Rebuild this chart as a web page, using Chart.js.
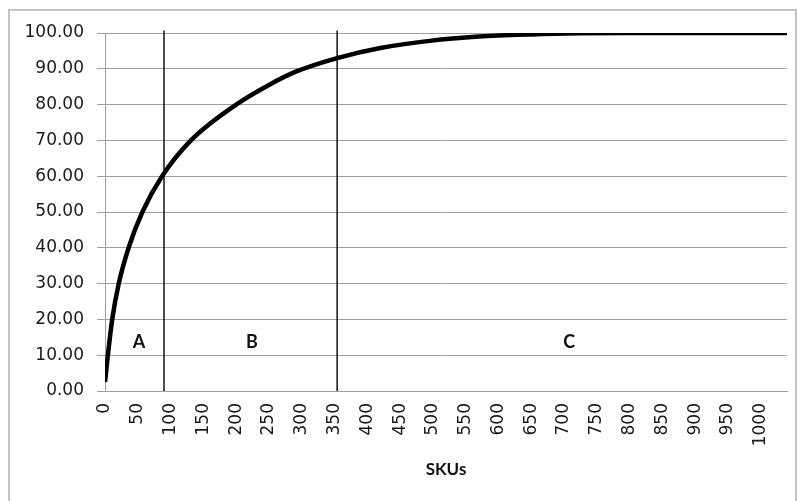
<!DOCTYPE html>
<html lang="en">
<head>
<meta charset="UTF-8">
<title>SKU ABC curve</title>
<script src="https://cdn.jsdelivr.net/npm/chart.js"></script>
<style>
  html, body { margin: 0; padding: 0; background: #fff; overflow: hidden; }
  .frame { position: absolute; left: 8px; top: 9px; width: 789px; height: 520px; border: 2px solid #c4c4c4; box-sizing: border-box; }
  .chart-box { position: absolute; left: 0; top: 0; width: 798px; height: 501px; }
</style>
</head>
<body>
<div class="frame"></div>
<div class="chart-box"><canvas id="abcChart"></canvas></div>
<script>
// cumulative share (%) against number of SKUs
const skus = [0, 5, 11, 21, 36, 57, 87, 131, 200, 250, 291, 354, 420, 495, 570, 650, 725, 800, 1040];
const cumulative = [2.5, 11, 20, 30, 40, 50, 60, 70, 80, 85.5, 89.2, 93.0, 95.8, 97.8, 99.0, 99.6, 99.9, 100, 100];

// A/B/C class boundaries and zone names
const zoneBounds = [90, 354];
const zoneNames = ['A', 'B', 'C'];
const zoneNameX = [52, 224, 708];
const zoneNameY = [13.5, 13.5, 13.5];

const xMax = 1040;
const xStep = 50;
const yMax = 100;
const yStep = 10;

const zoneLabelPlugin = {
    id: 'zoneLabels',
    afterDatasetsDraw(chart) {
        const { ctx, scales: { x, y } } = chart;
        ctx.save();
        ctx.font = 'bold 18px Lato';
        ctx.fillStyle = '#111';
        ctx.textAlign = 'center';
        ctx.textBaseline = 'middle';
        zoneNames.forEach((name, i) => {
            ctx.fillText(name, x.getPixelForValue(zoneNameX[i]), y.getPixelForValue(zoneNameY[i]));
        });
        ctx.restore();
    }
};

const datasets = [
    {
        data: skus.map((s, i) => ({ x: s, y: cumulative[i] })),
        borderColor: '#000',
        borderWidth: 4.5,
        cubicInterpolationMode: 'monotone'
    }
];
zoneBounds.forEach(b => {
    datasets.push({
        data: [{ x: b, y: 0 }, { x: b, y: 100.7 }],
        borderColor: '#111',
        borderWidth: 1.5,
        clip: false
    });
});

new Chart(document.getElementById('abcChart'), {
    type: 'line',
    data: { datasets },
    options: {
        responsive: true,
        maintainAspectRatio: false,
        animation: false,
        layout: { padding: { top: 33, right: 11, left: 0, bottom: 0 } },
        elements: { point: { radius: 0 } },
        plugins: {
            legend: { display: false },
            tooltip: { enabled: false }
        },
        scales: {
            x: {
                type: 'linear',
                min: 0,
                max: xMax,
                grid: { display: false, drawTicks: false },
                border: { display: true, color: '#a0a0a0', width: 1 },
                ticks: {
                    stepSize: xStep,
                    autoSkip: false,
                    includeBounds: false,
                    minRotation: 90,
                    maxRotation: 90,
                    padding: 12,
                    color: '#1a1a1a',
                    font: { family: 'DejaVu Sans', size: 17 },
                    callback: v => String(v)
                },
                title: {
                    display: true,
                    text: 'SKUs',
                    color: '#111',
                    font: { family: 'Lato', size: 17, weight: 'bold' },
                    padding: { top: 0, bottom: 21 }
                },
                afterFit: s => { s.height = 110; }
            },
            y: {
                min: 0,
                max: yMax,
                grid: { color: '#a0a0a0', lineWidth: 1, tickLength: 8 },
                border: { display: true, color: '#a0a0a0', width: 1 },
                ticks: {
                    stepSize: yStep,
                    padding: 13,
                    color: '#1a1a1a',
                    font: { family: 'DejaVu Sans', size: 17 },
                    callback: v => v.toFixed(2)
                },
                afterFit: s => { s.width = 105; }
            }
        }
    },
    plugins: [zoneLabelPlugin]
});
</script>
</body>
</html>
